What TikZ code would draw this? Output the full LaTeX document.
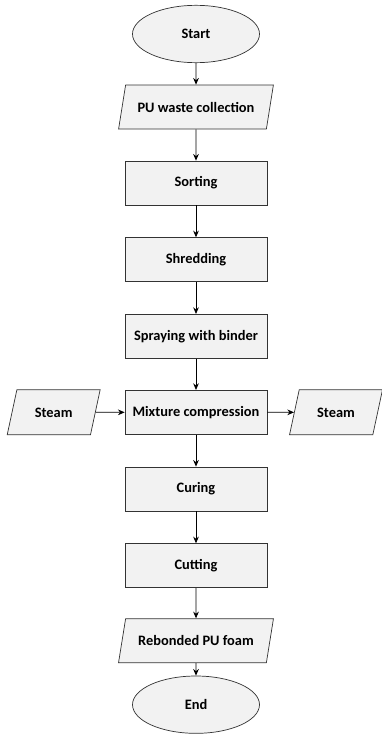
\documentclass[tikz,border=0pt]{standalone}
\usepackage{fontspec}
\setmainfont{Carlito}
\usepackage{tikz}
\usetikzlibrary{shapes,shapes.geometric,arrows,arrows.meta,positioning}

\begin{document}
\begin{tikzpicture}[%
>={Stealth[length=2mm,width=1.7mm]},
node distance=2.3cm,
on grid,
every node/.style={font=\bfseries\fontsize{12.3}{14}\selectfont, draw=black!80, fill=black!5, line width=0.6pt},
process/.style={rectangle, minimum width=4.26cm, minimum height=1.32cm},
io/.style={trapezium, trapezium left angle=71, trapezium right angle=109, trapezium stretches=true, minimum width=4.65cm, minimum height=1.32cm},
terminal/.style={ellipse, minimum width=3.81cm, minimum height=1.72cm},
flow/.style={->, line width=0.7pt, draw=black}
]
\useasboundingbox (0,0) rectangle (11.46,-22.14);

\node[terminal] (start) at (5.88,-1.02) {Start};
\node[io] (collect) [below of=start, node distance=2.19cm] {PU waste collection};

\node[process] (sort) [below of=collect, node distance=2.28cm] {Sorting};
\node[process] (shred) [below of=sort] {Shredding};
\node[process] (spray) [below of=shred] {Spraying with binder};
\node[process] (mix) [below of=spray, node distance=2.28cm] {Mixture compression};
\node[process] (cure) [below of=mix] {Curing};
\node[process] (cut) [below of=cure] {Cutting};

\node[io] (foam) [below of=cut, node distance=2.25cm] {Rebonded PU foam};
\node[terminal] (end) [below of=foam, node distance=1.92cm] {End};

% steam in and out
\node[io, minimum width=2.8cm, minimum height=1.35cm] (steamin) [left of=mix, node distance=4.27cm] {Steam};
\node[io, minimum width=2.8cm, minimum height=1.35cm] (steamout) [right of=mix, node distance=4.2cm] {Steam};

% main line
\path[flow] (start) edge (collect);
\path[flow] (collect) edge (sort);
\path[flow] (sort) edge (shred);
\path[flow] (shred) edge (spray);
\path[flow] (spray) edge (mix);
\path[flow] (mix) edge (cure);
\path[flow] (cure) edge (cut);
\path[flow] (cut) edge (foam);
\path[flow] (foam) edge (end);

% side branches
\path[flow] (steamin) edge (mix);
\path[flow] (mix) edge (steamout);
\end{tikzpicture}
\end{document}
